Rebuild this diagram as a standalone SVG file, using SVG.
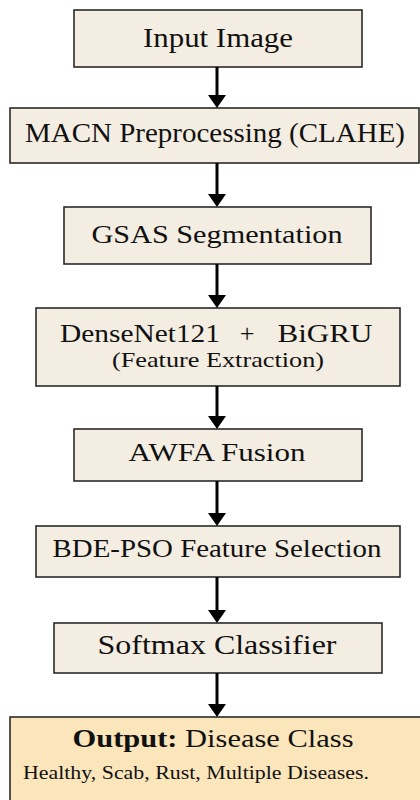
<svg xmlns="http://www.w3.org/2000/svg" width="420" height="800" viewBox="0 0 420 800">
<defs>
<style>
.box{fill:#F4EDE2;stroke:#2a2a2a;stroke-width:1.6}
.out{fill:#FBE5BB;stroke:#2a2a2a;stroke-width:1.6}
text{font-family:'Liberation Serif','Times New Roman',Times,serif;fill:#111;text-anchor:middle}
.conn line{stroke:#000;stroke-width:3}
.conn path{fill:#000}
</style>
</defs>
<rect width="420" height="800" fill="#ffffff"/>
<g id="input">
<rect class="box" x="74" y="10" width="288" height="57"/>
<text x="218" y="47" font-size="28" textLength="150" lengthAdjust="spacingAndGlyphs">Input Image</text>
</g>
<g id="macn">
<rect class="box" x="10" y="108" width="409" height="55"/>
<text x="215" y="142" font-size="27" textLength="380" lengthAdjust="spacingAndGlyphs">MACN Preprocessing (CLAHE)</text>
</g>
<g id="gsas">
<rect class="box" x="64" y="207" width="307" height="57"/>
<text x="217" y="243" font-size="26" textLength="251" lengthAdjust="spacingAndGlyphs">GSAS Segmentation</text>
</g>
<g id="densenet">
<rect class="box" x="36" y="308" width="364" height="78"/>
<text y="342" font-size="26"><tspan x="140" textLength="160" lengthAdjust="spacingAndGlyphs">DenseNet121</tspan><tspan x="247">+</tspan><tspan x="325" textLength="95" lengthAdjust="spacingAndGlyphs">BiGRU</tspan></text>
<text x="218" y="367" font-size="22" textLength="212" lengthAdjust="spacingAndGlyphs">(Feature Extraction)</text>
</g>
<g id="awfa">
<rect class="box" x="74" y="429" width="288" height="52"/>
<text x="217" y="461" font-size="26" textLength="177" lengthAdjust="spacingAndGlyphs">AWFA Fusion</text>
</g>
<g id="bdepso">
<rect class="box" x="36" y="526" width="364" height="51"/>
<text x="217" y="557" font-size="25" textLength="329" lengthAdjust="spacingAndGlyphs">BDE-PSO Feature Selection</text>
</g>
<g id="softmax">
<rect class="box" x="54" y="623" width="328" height="50"/>
<text x="217" y="654" font-size="27" textLength="239" lengthAdjust="spacingAndGlyphs">Softmax Classifier</text>
</g>
<g id="output">
<rect class="out" x="10" y="717" width="420" height="100"/>
<text x="213" y="747" font-size="25" textLength="281" lengthAdjust="spacingAndGlyphs"><tspan font-weight="bold">Output:</tspan> Disease Class</text>
<text x="196" y="779" font-size="19" textLength="346" lengthAdjust="spacingAndGlyphs">Healthy, Scab, Rust, Multiple Diseases.</text>
</g>
<g id="connectors" class="conn">
<line x1="217" y1="67" x2="217" y2="96"/><path d="M208,95 L226,95 L217,108 Z"/>
<line x1="217" y1="163" x2="217" y2="195"/><path d="M208,194 L226,194 L217,207 Z"/>
<line x1="217" y1="264" x2="217" y2="296"/><path d="M208,295 L226,295 L217,308 Z"/>
<line x1="217" y1="386" x2="217" y2="417"/><path d="M208,416 L226,416 L217,429 Z"/>
<line x1="217" y1="481" x2="217" y2="514"/><path d="M208,513 L226,513 L217,526 Z"/>
<line x1="217" y1="577" x2="217" y2="611"/><path d="M208,610 L226,610 L217,623 Z"/>
<line x1="217" y1="673" x2="217" y2="705"/><path d="M208,704 L226,704 L217,717 Z"/>
</g>
</svg>
